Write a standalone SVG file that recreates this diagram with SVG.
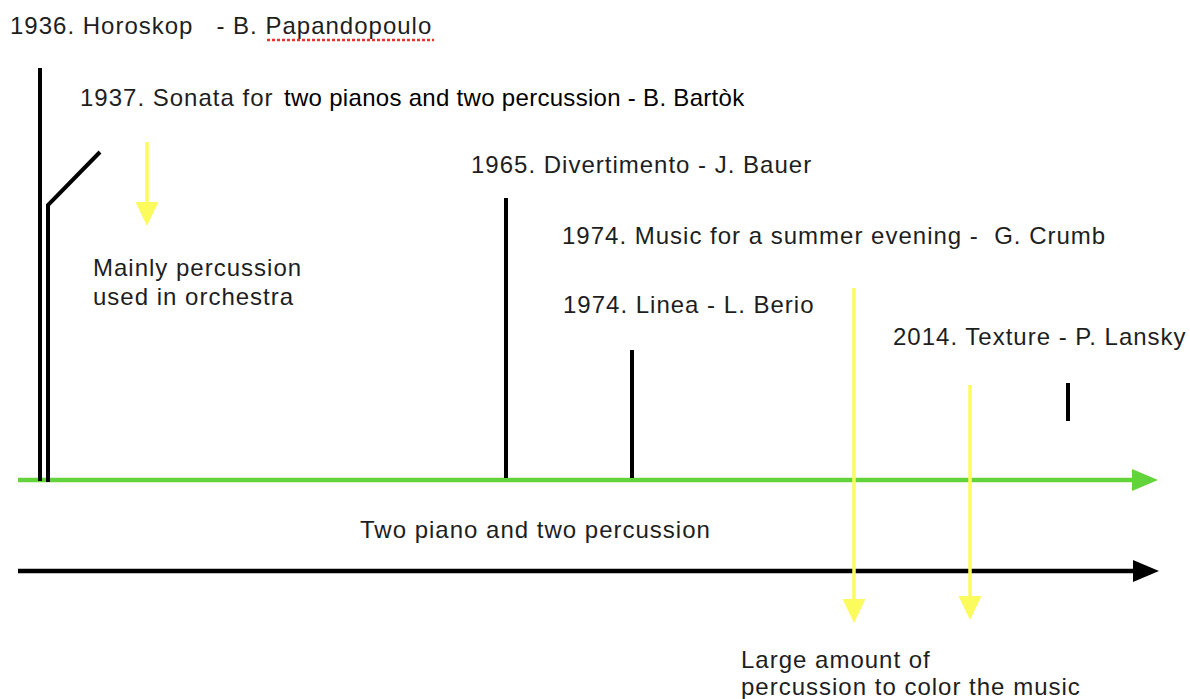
<svg xmlns="http://www.w3.org/2000/svg" width="1190" height="699" viewBox="0 0 1190 699">
<style>
text{font-family:"Liberation Sans",Arial,Helvetica,sans-serif;font-size:24px;fill:#1e1e1e;letter-spacing:1px;white-space:pre}
.blk{fill:#000;letter-spacing:0.3px}
.bar{stroke:#000;stroke-width:4;fill:none}
.ya{stroke:#fbfb5e;stroke-width:3.5;fill:none;marker-end:url(#my)}
</style>
<defs>
<marker id="mg" markerUnits="userSpaceOnUse" markerWidth="26" markerHeight="24" refX="14" refY="12" orient="auto"><path d="M0,1 L26,12 L0,23 z" fill="#63d33b"/></marker>
<marker id="mk" markerUnits="userSpaceOnUse" markerWidth="26" markerHeight="24" refX="14" refY="12" orient="auto"><path d="M0,1 L26,12 L0,23 z" fill="#000"/></marker>
<marker id="my" markerUnits="userSpaceOnUse" markerWidth="24" markerHeight="24" refX="12" refY="12" orient="auto"><path d="M0,0.5 L24,12 L0,23.5 z" fill="#fbfb5e"/></marker>
</defs>
<g id="connectors">
<line x1="18" y1="480" x2="1146" y2="480" stroke="#63d33b" stroke-width="4.5" marker-end="url(#mg)"/>
<line x1="18" y1="571" x2="1147" y2="571" stroke="#000" stroke-width="4.5" marker-end="url(#mk)"/>
<line class="ya" x1="147" y1="142" x2="147" y2="214"/>
<line class="ya" x1="854" y1="288" x2="854" y2="611"/>
<line class="ya" x1="970" y1="385" x2="970" y2="608"/>
</g>
<g id="n1936">
<text x="10" y="34" xml:space="preserve">1936. Horoskop   - B. Papandopoulo</text>
<line x1="267" y1="40" x2="434" y2="40" stroke="#e8332f" stroke-width="2.5" stroke-dasharray="3,2"/>
<line class="bar" x1="40" y1="68" x2="40" y2="481"/>
</g>
<g id="n1937">
<text x="80" y="106">1937. Sonata for</text>
<text class="blk" x="284" y="106">two pianos and two percussion - B. Bartòk</text>
<polyline class="bar" points="48,482 48,205 100,152"/>
</g>
<g id="n-mainly">
<text x="93" y="276">Mainly percussion</text>
<text x="93" y="305">used in orchestra</text>
</g>
<g id="n1965">
<text x="471" y="173">1965. Divertimento - J. Bauer</text>
<line class="bar" x1="506" y1="198" x2="506" y2="478"/>
</g>
<g id="n1974a">
<text x="562" y="244" xml:space="preserve">1974. Music for a summer evening -  G. Crumb</text>
</g>
<g id="n1974b">
<text x="563" y="313">1974. Linea - L. Berio</text>
<line class="bar" x1="632" y1="350" x2="632" y2="478"/>
</g>
<g id="n2014">
<text x="893" y="345">2014. Texture - P. Lansky</text>
<line class="bar" x1="1068" y1="383" x2="1068" y2="421"/>
</g>
<g id="n-two">
<text x="360" y="538">Two piano and two percussion</text>
</g>
<g id="n-large">
<text x="741" y="668">Large amount of</text>
<text x="741" y="695">percussion to color the music</text>
</g>
</svg>
